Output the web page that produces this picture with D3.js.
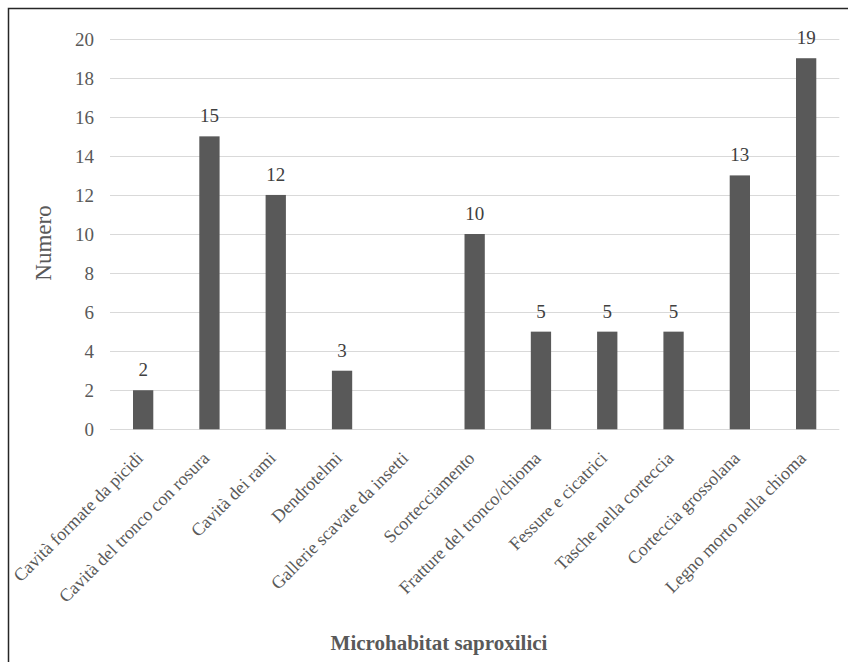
<!DOCTYPE html>
<html>
<head>
<meta charset="utf-8">
<script src="https://cdn.jsdelivr.net/npm/d3@7"></script>
<style>
  html, body { margin: 0; padding: 0; background: #fff; }
  svg { display: block; }
  svg text { font-family: "Liberation Serif", "Times New Roman", "DejaVu Serif", serif; }
</style>
</head>
<body>
<svg id="chart" width="848" height="662"></svg>
<script>
// Microhabitat saproxilici: number of occurrences per type
const categories = [
  "Cavità formate da picidi",
  "Cavità del tronco con rosura",
  "Cavità dei rami",
  "Dendrotelmi",
  "Gallerie scavate da insetti",
  "Scortecciamento",
  "Fratture del tronco/chioma",
  "Fessure e cicatrici",
  "Tasche nella corteccia",
  "Corteccia grossolana",
  "Legno morto nella chioma"
];
const values = [2, 15, 12, 3, 0, 10, 5, 5, 5, 13, 19];
const yTicks = [0, 2, 4, 6, 8, 10, 12, 14, 16, 18, 20];

const svg = d3.select("#chart");

// chart frame (continues past the visible area on the right and bottom)
svg.append("rect")
  .attr("x", 8.5).attr("y", 8.5)
  .attr("width", 900).attr("height", 700)
  .attr("fill", "none")
  .attr("stroke", "#262626")
  .attr("stroke-width", 1.5);

const plot = { left: 110, right: 839.3, top: 38.7, bottom: 429.3 };

const x = d3.scaleBand()
  .domain(categories)
  .range([plot.left, plot.right])
  .paddingInner(0.694)
  .paddingOuter(0.347);

const y = d3.scaleLinear()
  .domain([0, 20])
  .range([plot.bottom, plot.top]);

// horizontal gridlines
svg.append("g")
  .selectAll("line")
  .data(yTicks)
  .join("line")
  .attr("x1", plot.left).attr("x2", plot.right)
  .attr("y1", d => Math.round(y(d)) + 0.5)
  .attr("y2", d => Math.round(y(d)) + 0.5)
  .attr("stroke", "#d9d9d9")
  .attr("stroke-width", 1);

// y axis tick labels
const yAxis = d3.axisLeft(y).tickValues(yTicks).tickSize(0).tickPadding(0);
const gy = svg.append("g")
  .attr("transform", `translate(${plot.left - 16},0)`)
  .call(yAxis)
  .attr("font-family", null);
gy.select(".domain").remove();
gy.selectAll("text")
  .attr("font-size", 19)
  .attr("fill", "#595959")
  .attr("dy", "0.34em");

// bars
svg.append("g")
  .selectAll("rect")
  .data(values)
  .join("rect")
  .attr("x", (d, i) => x(categories[i]))
  .attr("y", d => y(d))
  .attr("width", x.bandwidth())
  .attr("height", d => y(0) - y(d))
  .attr("fill", "#595959");

// value labels above the bars
svg.append("g")
  .selectAll("text")
  .data(values.map((v, i) => ({ v, c: categories[i] })).filter(d => d.v > 0))
  .join("text")
  .attr("x", d => x(d.c) + x.bandwidth() / 2)
  .attr("y", d => y(d.v) - 14)
  .attr("text-anchor", "middle")
  .attr("font-size", 19)
  .attr("fill", "#404040")
  .text(d => d.v);

// category labels, rotated
const xAxis = d3.axisBottom(x).tickSize(0).tickPadding(0);
const gx = svg.append("g")
  .attr("transform", `translate(0,${plot.bottom})`)
  .call(xAxis)
  .attr("font-family", null);
gx.select(".domain").remove();
gx.selectAll("text")
  .attr("font-size", 18)
  .attr("fill", "#595959")
  .attr("text-anchor", "end")
  .attr("dy", 0)
  .attr("y", 0)
  .attr("transform", "translate(1,30) rotate(-45)");

// axis titles
svg.append("text")
  .attr("transform", `translate(51,243) rotate(-90)`)
  .attr("text-anchor", "middle")
  .attr("font-size", 23)
  .attr("fill", "#595959")
  .text("Numero");

svg.append("text")
  .attr("x", 439)
  .attr("y", 650)
  .attr("text-anchor", "middle")
  .attr("font-size", 21)
  .attr("font-weight", "bold")
  .attr("fill", "#595959")
  .text("Microhabitat saproxilici");
</script>
</body>
</html>
